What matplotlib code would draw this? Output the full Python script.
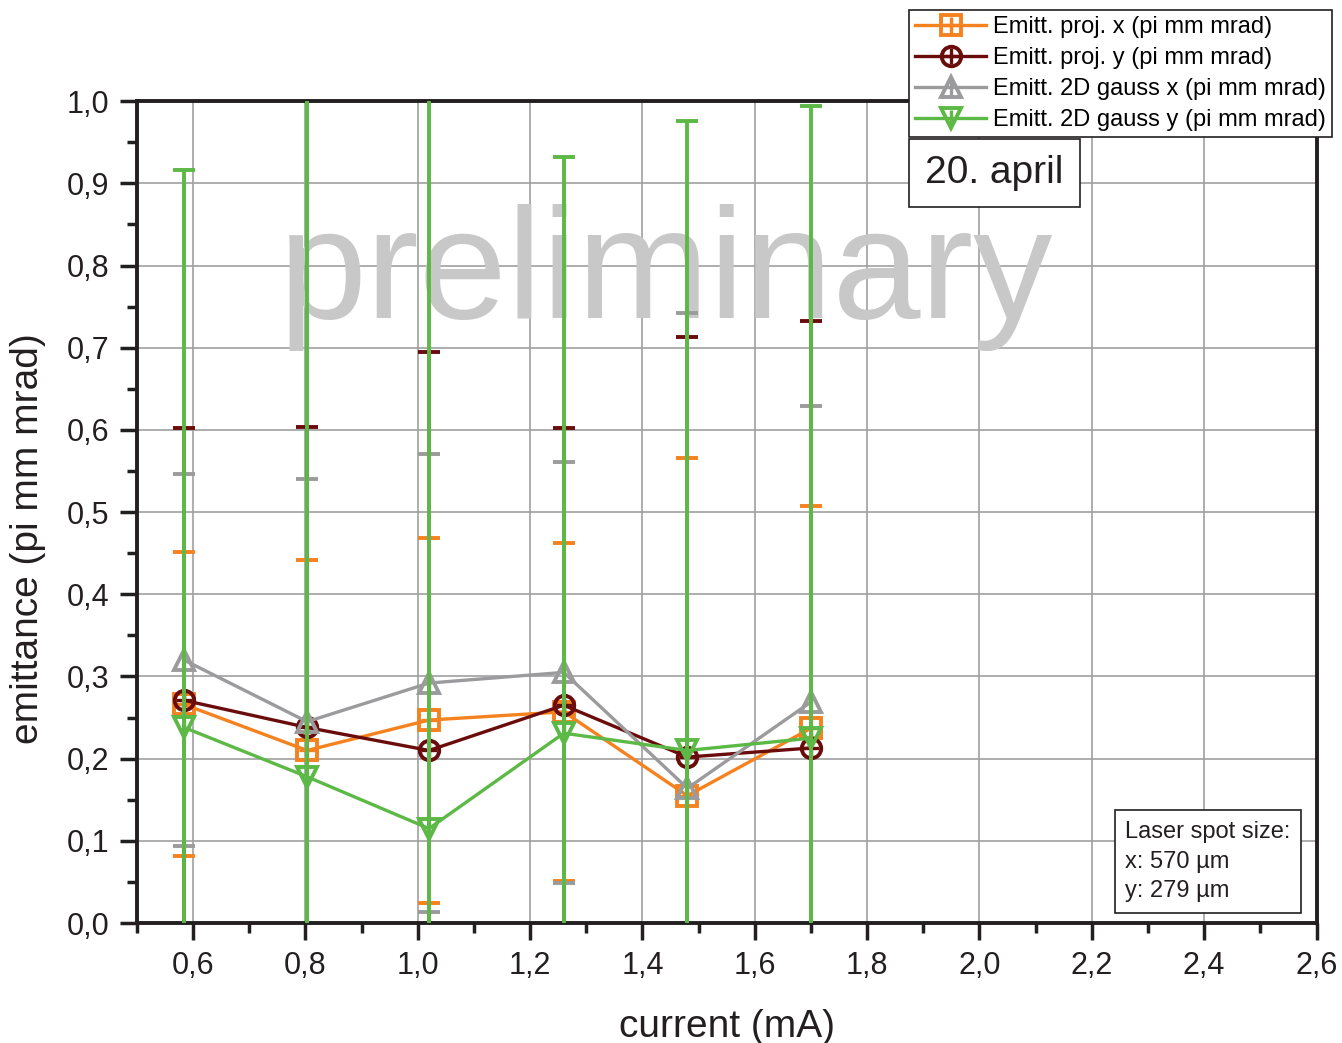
import matplotlib
matplotlib.use("Agg")
import matplotlib.pyplot as plt
from matplotlib.ticker import MultipleLocator, FuncFormatter
from matplotlib.legend_handler import HandlerTuple

plt.rcParams['font.family'] = ['Liberation Sans', 'DejaVu Sans']

current = [0.584, 0.803, 1.020, 1.260, 1.480, 1.700]

proj_x = [0.266, 0.210, 0.247, 0.257, 0.155, 0.237]
proj_x_err = [0.185, 0.232, 0.222, 0.206, 0.411, 0.271]

proj_y = [0.271, 0.238, 0.210, 0.265, 0.202, 0.213]
proj_y_err = [0.331, 0.365, 0.485, 0.337, 0.511, 0.519]

gauss_x = [0.320, 0.245, 0.292, 0.305, 0.164, 0.269]
gauss_x_err = [0.226, 0.295, 0.279, 0.256, 0.578, 0.360]

gauss_y = [0.238, 0.178, 0.115, 0.231, 0.210, 0.225]
gauss_y_err = [0.678, 0.850, 0.950, 0.701, 0.766, 0.769]

labels = ["Emitt. proj. x (pi mm mrad)", "Emitt. proj. y (pi mm mrad)",
          "Emitt. 2D gauss x (pi mm mrad)", "Emitt. 2D gauss y (pi mm mrad)"]

c_orange = '#f5821f'
c_red = '#6b0c0c'
c_gray = '#9b9b9d'
c_green = '#5cb946'

fig = plt.figure(figsize=(13.42, 10.43), dpi=100)
ax = fig.add_axes([0.102, 0.115, 0.879, 0.788])

ax.set_xlim(0.5, 2.6)
ax.set_ylim(0.0, 1.0)

# watermark
ax.text(0.449, 0.785, "preliminary", transform=ax.transAxes, ha='center', va='center',
        fontsize=114, color='#c8c8c9', zorder=1)

ax.grid(True, which='major', color='#a0a0a0', linewidth=1.2, zorder=0)
ax.set_axisbelow(True)

series = [
    (proj_x, proj_x_err, c_orange, 's', 3),
    (proj_y, proj_y_err, c_red, 'o', 4),
    (gauss_x, gauss_x_err, c_gray, '^', 5),
    (gauss_y, gauss_y_err, c_green, 'v', 6),
]

handles = []
for (vals, errs, col, mk, z) in series:
    ax.errorbar(current, vals, yerr=errs, fmt='none', ecolor=col, elinewidth=2.8,
                capsize=8, capthick=2.8, zorder=z + 2 if col == c_green else z)
    ln, = ax.plot(current, vals, color=col, linewidth=2.4, marker=mk, markersize=14,
                  markerfacecolor='none', markeredgecolor=col, markeredgewidth=2.8, zorder=z + 1)
    pl, = ax.plot(current, vals, linestyle='none', marker='|' if mk in ('^', 'v') else '+',
                  markersize=11, markeredgecolor=col, markeredgewidth=2.4, zorder=z + 1)
    handles.append((ln, pl))

ax.xaxis.set_major_locator(MultipleLocator(0.2))
ax.xaxis.set_minor_locator(MultipleLocator(0.1))
ax.yaxis.set_major_locator(MultipleLocator(0.1))
ax.yaxis.set_minor_locator(MultipleLocator(0.05))

fmt_x = FuncFormatter(lambda v, p: f"{v:.1f}".replace('.', ','))
ax.xaxis.set_major_formatter(fmt_x)
ax.yaxis.set_major_formatter(fmt_x)

ax.tick_params(which='major', direction='out', length=12, width=2.5, labelsize=22,
               color='#231f20', labelcolor='#231f20', pad=8)
ax.tick_params(which='minor', direction='out', length=7, width=2.5, color='#231f20')
ax.tick_params(top=False, right=False)

for s in ax.spines.values():
    s.set_linewidth(2.8)
    s.set_color('#231f20')

ax.set_xlabel("current (mA)", fontsize=28, color='#231f20', labelpad=20)
ax.set_ylabel("emittance (pi mm mrad)", fontsize=28, color='#231f20')
ax.yaxis.set_label_coords(-0.092, 0.468)
ax.yaxis.label.set_va('center')

leg = fig.legend(handles, labels, handler_map={tuple: HandlerTuple(ndivide=1, pad=0)},
                 loc='upper right', bbox_to_anchor=(0.9925, 0.990), fontsize=17,
                 frameon=True, fancybox=False, edgecolor='#231f20', framealpha=1,
                 handlelength=3.0, handletextpad=0.3, borderpad=0.25, labelspacing=0.38,
                 borderaxespad=0)
leg.get_frame().set_linewidth(1.2)

fig.text(0.6895, 0.834, "20. april", fontsize=28, color='#231f20', ha='left', va='center',
         bbox=dict(boxstyle='square,pad=0.42', facecolor='white', edgecolor='#231f20', linewidth=1.2))

fig.text(0.8385, 0.174, "Laser spot size:\nx: 570 µm\ny: 279 µm", fontsize=17, color='#231f20',
         ha='left', va='center', linespacing=1.45,
         bbox=dict(boxstyle='square,pad=0.45', facecolor='white', edgecolor='#231f20', linewidth=1.2))

fig.savefig("out.png", dpi=100, facecolor='white')
